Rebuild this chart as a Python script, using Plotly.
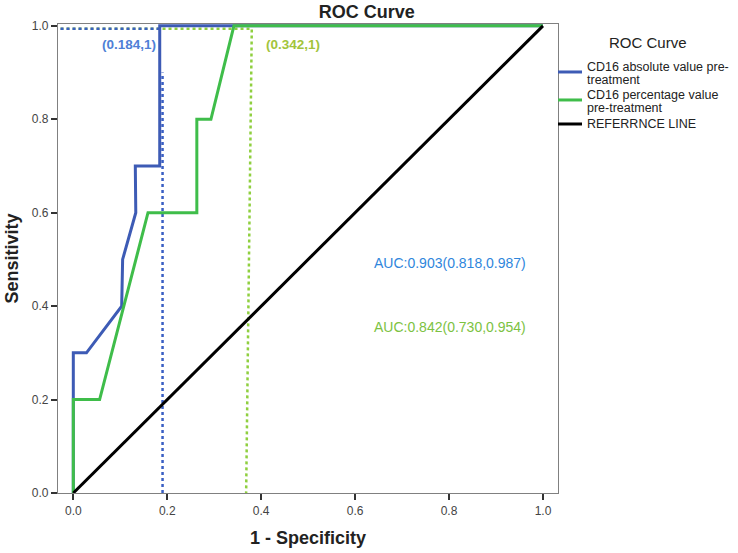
import plotly.graph_objects as go

# ---- data ----
blue_fpr = [0, 0, 0.028, 0.103, 0.105, 0.133, 0.132, 0.184, 0.184, 1.0]
blue_tpr = [0, 0.3, 0.3, 0.4, 0.5, 0.6, 0.7, 0.7, 1.0, 1.0]
green_fpr = [0, 0, 0.056, 0.159, 0.263, 0.263, 0.293, 0.342, 1.0]
green_tpr = [0, 0.2, 0.2, 0.6, 0.6, 0.8, 0.8, 1.0, 1.0]
ref_x = [0, 1]
ref_y = [0, 1]
blue_cut_x = [-0.04, 0.184, None, 0.19, 0.19]
blue_cut_y = [0.994, 0.994, None, 0.0, 0.9]
green_cut_x = [-0.04, 0.38, 0.368]
green_cut_y = [0.994, 0.994, 0.0]
series_names = ["CD16 absolute value pre-", "treatment",
                "CD16 percentage value", "pre-treatment",
                "REFERRNCE LINE"]
x_ticks = [0.0, 0.2, 0.4, 0.6, 0.8, 1.0]
y_ticks = [0.0, 0.2, 0.4, 0.6, 0.8, 1.0]

BLUE = "#3d5bb5"
GREEN = "#3fbd4a"
BLUE_DOT = "#3a5fc4"
GREEN_DOT = "#8fcf3f"
FONT = "Liberation Sans, Arial, sans-serif"

fig = go.Figure()
fig.add_trace(go.Scatter(x=green_cut_x, y=green_cut_y, mode="lines",
                         line=dict(color=GREEN_DOT, width=2.5, dash="dot"),
                         showlegend=False, hoverinfo="skip"))
fig.add_trace(go.Scatter(x=blue_cut_x, y=blue_cut_y, mode="lines",
                         line=dict(color=BLUE_DOT, width=2.5, dash="dot"),
                         showlegend=False, hoverinfo="skip"))
fig.add_trace(go.Scatter(x=blue_fpr, y=blue_tpr, mode="lines", name=series_names[0],
                         line=dict(color=BLUE, width=3), showlegend=False))
fig.add_trace(go.Scatter(x=green_fpr, y=green_tpr, mode="lines", name=series_names[2],
                         line=dict(color=GREEN, width=3), showlegend=False))
fig.add_trace(go.Scatter(x=ref_x, y=ref_y, mode="lines", name=series_names[4],
                         line=dict(color="black", width=3), showlegend=False))

fig.add_annotation(x=0.119, y=0.961, text="<b>(0.184,1)</b>", showarrow=False,
                   font=dict(family=FONT, size=13.5, color="#4f80d6"))
fig.add_annotation(x=0.467, y=0.961, text="<b>(0.342,1)</b>", showarrow=False,
                   font=dict(family=FONT, size=13.5, color="#a2c43c"))
fig.add_annotation(x=0.802, y=0.493, text="AUC:0.903(0.818,0.987)", showarrow=False,
                   font=dict(family=FONT, size=14, color="#2f86dc"))
fig.add_annotation(x=0.802, y=0.356, text="AUC:0.842(0.730,0.954)", showarrow=False,
                   font=dict(family=FONT, size=14, color="#7cc242"))

# ---- manual legend (paper coords; plot area is 500 x 469 px) ----
leg_font = dict(family=FONT, size=12.5, color="#222")
fig.add_annotation(xref="paper", yref="paper", x=1.18, y=0.9616, text="ROC Curve",
                   showarrow=False, xanchor="center", yanchor="middle",
                   font=dict(family=FONT, size=15, color="#222"))
legend_rows = [(series_names[0], 0.9083), (series_names[1], 0.8806),
               (series_names[2], 0.8486), (series_names[3], 0.8209)]
for txt, yy in legend_rows:
    fig.add_annotation(xref="paper", yref="paper", x=1.054, y=yy, text=txt,
                       showarrow=False, xanchor="left", yanchor="middle", font=leg_font)
fig.add_annotation(xref="paper", yref="paper", x=1.054, y=0.7868, text=series_names[4],
                   showarrow=False, xanchor="left", yanchor="middle",
                   font=dict(family="Liberation Sans Narrow, Liberation Sans, Arial", size=12.5,
                             color="#222"))
for col, yy in [(BLUE, 0.8977), (GREEN, 0.838), ("black", 0.7868)]:
    fig.add_shape(type="line", xref="paper", yref="paper", x0=1.0, x1=1.048, y0=yy, y1=yy,
                  line=dict(color=col, width=3))

axis_common = dict(showline=True, mirror=True, linecolor="#808080", linewidth=1.2,
                   ticks="outside", ticklen=6, tickcolor="#333", tickwidth=1.5,
                   showgrid=False, zeroline=False, automargin=False,
                   tickfont=dict(family=FONT, size=12, color="#444"))

fig.update_layout(
    width=738, height=553,
    margin=dict(l=58, r=180, t=24, b=60),
    paper_bgcolor="white", plot_bgcolor="white",
    showlegend=False,
    title=dict(text="<b>ROC Curve</b>", x=0.497, xref="container", xanchor="center",
               y=0.978, yref="container", yanchor="middle",
               font=dict(family=FONT, size=18, color="#222")),
    xaxis=dict(range=[-0.0326, 1.032], tickvals=x_ticks, tickformat=".1f",
               title=dict(text="<b>1 - Specificity</b>", standoff=14,
                          font=dict(family=FONT, size=18, color="#222")),
               **axis_common),
    yaxis=dict(range=[0, 1.004], tickvals=y_ticks, tickformat=".1f",
               title=dict(text="<b>Sensitivity</b>", standoff=8,
                          font=dict(family=FONT, size=18, color="#222")),
               **axis_common),
)

fig.write_html("out.html")
